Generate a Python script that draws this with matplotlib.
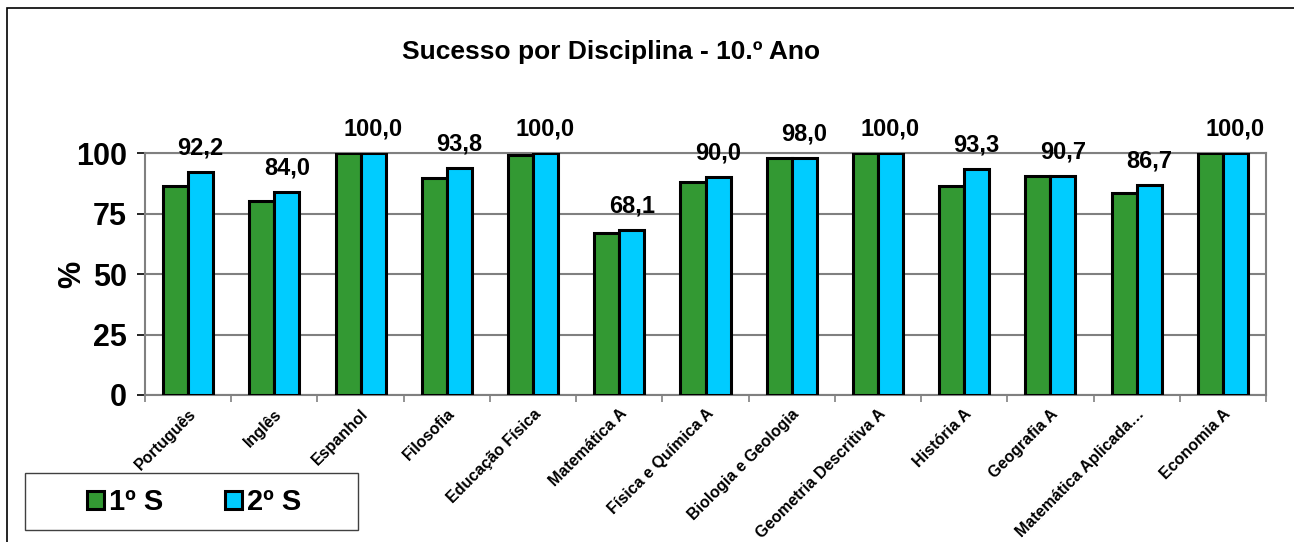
import matplotlib.pyplot as plt
import numpy as np
from matplotlib.patches import Rectangle

plt.rcParams["font.family"] = ["Liberation Sans", "DejaVu Sans"]
plt.rcParams["font.weight"] = "bold"

disciplinas = [
    "Português", "Inglês", "Espanhol", "Filosofia", "Educação Física",
    "Matemática A", "Física e Química A", "Biologia e Geologia",
    "Geometria Descritiva A", "História A", "Geografia A",
    "Matemática Aplicada…", "Economia A",
]
sem1 = [86.4, 80.0, 100.0, 89.8, 99.2, 66.8, 88.2, 98.0, 100.0, 86.4, 90.7, 83.6, 100.0]
sem2 = [92.2, 84.0, 100.0, 93.8, 100.0, 68.1, 90.0, 98.0, 100.0, 93.3, 90.7, 86.7, 100.0]
series_names = ["1º S", "2º S"]
yticks = [0, 25, 50, 75, 100]

green = "#339933"
blue = "#00ccff"

W, H = 1294, 542
fig = plt.figure(figsize=(W / 100, H / 100), dpi=100)
# outer chart border
fig.patches.append(Rectangle((7 / W, -0.01), 1.2, 1 - 8 / H + 0.01, transform=fig.transFigure,
                             fill=False, edgecolor="black", linewidth=1.2))

ax = fig.add_axes([145 / W, 1 - 395 / H, (1266 - 145) / W, (395 - 153) / H])
x = np.arange(len(disciplinas))
w = 0.29
b1 = ax.bar(x - w / 2, sem1, w, color=green, edgecolor="black", linewidth=2.2,
            label=series_names[0], zorder=3)
b2 = ax.bar(x + w / 2, sem2, w, color=blue, edgecolor="black", linewidth=2.2,
            label=series_names[1], zorder=3)

for xi, v in zip(x, sem2):
    ax.annotate(f"{v:.1f}".replace(".", ","), (xi + w / 2, v), xytext=(0, 9),
                textcoords="offset points", ha="center", va="bottom",
                fontsize=17, fontweight="bold", annotation_clip=False)

ax.set_xlim(-0.5, len(disciplinas) - 0.5)
ax.set_ylim(0, 100)
ax.set_yticks(yticks)
ax.set_yticklabels([str(t) for t in yticks], fontsize=22, fontweight="bold")
ax.yaxis.grid(True, color="#808080", linewidth=1.5, zorder=0)
ax.set_axisbelow(True)

ax.set_xticks(x)
ax.set_xticklabels(disciplinas, rotation=45, ha="right", rotation_mode="anchor",
                   fontsize=11.5, fontweight="bold")
ax.tick_params(axis="x", length=0, pad=8)
ax.set_xticks(np.arange(-0.5, len(disciplinas)), minor=True)
ax.tick_params(axis="x", which="minor", length=5, color="#808080", width=1.2)
ax.tick_params(axis="y", length=6, color="black", width=1.2, pad=7)

for s in ax.spines.values():
    s.set_color("#808080")
    s.set_linewidth(1.5)

ax.set_ylabel("%", fontsize=22, fontweight="bold", labelpad=-8)

fig.text(611 / W, 1 - 52 / H, "Sucesso por Disciplina - 10.º Ano", ha="center", va="center",
         fontsize=19, fontweight="bold")

# legend box drawn separately, entries placed inside
fig.patches.append(Rectangle((25 / W, 1 - 530 / H), (358 - 25) / W, (530 - 473) / H,
                             transform=fig.transFigure, fill=False, edgecolor="#404040",
                             linewidth=1.0))
fig.legend(handles=[b1, b2], loc="center", bbox_to_anchor=(194 / W, 1 - 502 / H),
           ncol=2, frameon=False, handlelength=0.58, handleheight=0.58,
           handletextpad=0.17, columnspacing=2.1, borderaxespad=0,
           prop={"weight": "bold", "size": 21})

fig.savefig("out.png")
